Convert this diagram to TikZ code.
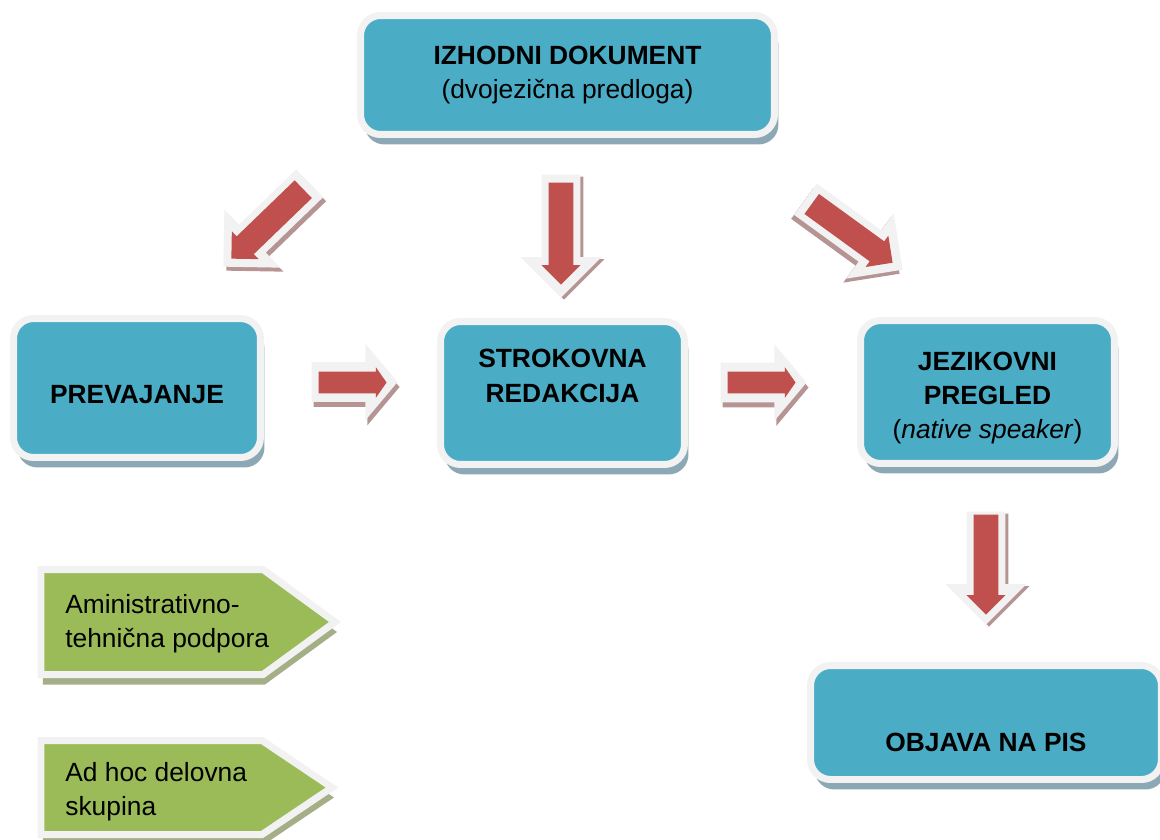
\documentclass[tikz,border=0pt]{standalone}
\usepackage{fontspec}
\setmainfont{Liberation Sans}
\usetikzlibrary{
    shapes.arrows,
    shadows
}
\definecolor{BoxTeal}{RGB}{75,172,198}
\definecolor{BoxShadow}{RGB}{140,168,180}
\definecolor{RimGray}{RGB}{242,242,242}
\definecolor{ArrowRed}{RGB}{192,80,77}
\definecolor{ArrowShadow}{RGB}{182,148,148}
\definecolor{TagGreen}{RGB}{155,187,89}
\definecolor{TagShadow}{RGB}{165,175,135}
\tikzset{
  stage/.style    = {draw=RimGray, line width=0.14cm, fill=BoxTeal, rounded corners=0.4cm,
                     align=center, inner sep=0pt, font=\fontsize{15}{19.5}\selectfont,
                     drop shadow={shadow xshift=0.08cm, shadow yshift=-0.2cm,
                                  fill=BoxShadow, opacity=1}},
  tag/.style      = {draw=RimGray, line width=0.14cm, fill=TagGreen,
                     drop shadow={shadow xshift=0.04cm, shadow yshift=-0.2cm,
                                  fill=TagShadow, opacity=1}},
  tagtext/.style  = {align=left, inner sep=0pt, anchor=west,
                     font=\fontsize{15}{19.5}\selectfont},
  bigrim/.style   = {single arrow, anchor=tip, fill=RimGray, inner xsep=0pt, inner ysep=0.38cm,
                     single arrow tip angle=90, minimum height=2.4cm,
                     single arrow head extend=0.42cm},
  bigshade/.style = {bigrim, fill=ArrowShadow},
  bigred/.style   = {single arrow, anchor=tip, fill=ArrowRed, inner xsep=0pt, inner ysep=0.24cm,
                     single arrow tip angle=90, minimum height=2.0cm,
                     single arrow head extend=0.14cm},
  smallrim/.style = {single arrow, anchor=tip, fill=RimGray, inner xsep=0pt, inner ysep=0.39cm,
                     single arrow tip angle=100, minimum height=1.72cm,
                     single arrow head extend=0.37cm},
  smallshade/.style = {smallrim, fill=ArrowShadow},
  smallred/.style = {single arrow, anchor=tip, fill=ArrowRed, inner xsep=0pt, inner ysep=0.21cm,
                     single arrow tip angle=110, minimum height=1.36cm,
                     single arrow head extend=0.09cm}
}

\begin{document}
\begin{tikzpicture}[x=0.02cm, y=-0.02cm]
\useasboundingbox (0,0) rectangle (1160,839);

% stages of the workflow
\node[stage, minimum width=8.28cm, minimum height=2.38cm] (izhodni) at (567.5,75)
    {\textbf{IZHODNI DOKUMENT}\\(dvojezična predloga)};
\node[stage, minimum width=4.94cm, minimum height=2.78cm] (prevajanje) at (137,388)
    {\rule{0pt}{17.5pt}\textbf{PREVAJANJE}};
\node[stage, minimum width=4.88cm, minimum height=2.86cm] (redakcija) at (562.5,393)
    {\textbf{STROKOVNA}\\\textbf{REDAKCIJA}\\~};
\node[stage, minimum width=5.08cm, minimum height=2.86cm] (pregled) at (987.5,392)
    {\rule{0pt}{17.5pt}\textbf{JEZIKOVNI}\\\textbf{PREGLED}\\(\textit{native speaker})};
\node[stage, minimum width=7.02cm, minimum height=2.28cm] (objava) at (986,722.5)
    {\strut\\\textbf{OBJAVA NA PIS}};

% block arrows, placed by their tips: shadow, rim, red body
\node[bigshade, rotate=224] (s1) at (226,271) {};
\node[bigrim, rotate=224] (r1) at (223,267) {};
\node[bigred, rotate=224] (a1) at (231,259) {};

\node[bigshade, rotate=-90, minimum height=2.46cm] (s2) at (564,300) {};
\node[bigrim, rotate=-90, minimum height=2.46cm] (r2) at (561,298) {};
\node[bigred, rotate=-90, minimum height=2.04cm] (a2) at (561,285) {};

\node[bigshade, rotate=-36] (s3) at (900,274) {};
\node[bigrim, rotate=-36] (r3) at (903,270) {};
\node[bigred, rotate=-36] (a3) at (893,263) {};

\node[smallshade] (s4) at (400,387) {};
\node[smallrim] (r4) at (398,382) {};
\node[smallred] (a4) at (387,382.5) {};

\node[smallshade] (s5) at (809,387.5) {};
\node[smallrim] (r5) at (807,382.5) {};
\node[smallred] (a5) at (796,382.5) {};

\node[bigshade, rotate=-90, minimum height=2.26cm] (s6) at (989,627) {};
\node[bigrim, rotate=-90, minimum height=2.26cm] (r6) at (986,625) {};
\node[bigred, rotate=-90] (a6) at (986,615) {};

% support tags
\draw[tag] (41,569.5) -- (263,569.5) -- (335,622) -- (263,674.5) -- (41,674.5) -- cycle;
\node[tagtext] (podpora) at (65,624) {Aministrativno-\\tehnična podpora};
\draw[tag] (41,740.5) -- (262,740.5) -- (332,787.5) -- (262,834.5) -- (41,834.5) -- cycle;
\node[tagtext] (skupina) at (65,792) {Ad hoc delovna\\skupina};
\end{tikzpicture}
\end{document}
